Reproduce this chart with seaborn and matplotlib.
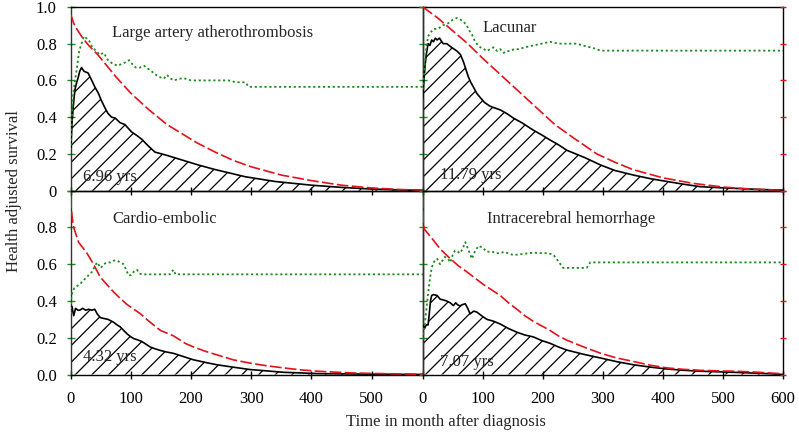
import numpy as np
import matplotlib
matplotlib.use("Agg")
import matplotlib.pyplot as plt
import pandas as pd
import seaborn as sns

# ---- data (months after diagnosis) ----
panel_titles = ["Large artery atherothrombosis", "Lacunar",
                "Cardio-embolic", "Intracerebral hemorrhage"]
area_labels = ["6.96 yrs", "11.79 yrs", "4.32 yrs", "7.07 yrs"]

# Large artery atherothrombosis
red1_m = [0, 5, 10, 20, 30, 45, 60, 75, 100, 130, 160, 185, 210, 240, 270, 300, 350, 400, 450, 500, 550, 600]
red1_v = [0.96, 0.91, 0.88, 0.83, 0.79, 0.74, 0.68, 0.62, 0.53, 0.44, 0.36, 0.31, 0.26, 0.21, 0.165, 0.13,
          0.085, 0.055, 0.03, 0.015, 0.006, 0.002]
green1_m = [0, 2, 4, 7, 10, 14, 18, 22, 26, 30, 36, 42, 48, 55, 62, 70, 78, 85, 92, 97, 102, 108, 115, 122,
            130, 138, 146, 155, 160, 166, 172, 180, 190, 200, 216, 235, 249, 262, 275, 290, 296, 600]
green1_v = [0.22, 0.40, 0.52, 0.60, 0.66, 0.76, 0.80, 0.84, 0.83, 0.82, 0.78, 0.76, 0.74, 0.75, 0.71, 0.69,
            0.68, 0.69, 0.70, 0.71, 0.69, 0.67, 0.67, 0.68, 0.66, 0.64, 0.62, 0.61, 0.63, 0.61, 0.60, 0.61,
            0.61, 0.60, 0.60, 0.60, 0.60, 0.60, 0.59, 0.59, 0.565, 0.565]
black1_m = [0, 2, 4, 7, 10, 12, 15, 18, 22, 29, 35, 40, 46, 51, 57, 62, 68, 74, 82, 90, 101, 110, 118, 130,
            140, 157, 184, 212, 240, 290, 340, 400, 450, 500, 550, 600]
black1_v = [0.22, 0.36, 0.45, 0.55, 0.59, 0.61, 0.65, 0.67, 0.65, 0.64, 0.60, 0.565, 0.53, 0.49, 0.45, 0.42,
            0.40, 0.395, 0.37, 0.36, 0.32, 0.30, 0.28, 0.24, 0.21, 0.195, 0.168, 0.14, 0.115, 0.076, 0.05,
            0.03, 0.018, 0.009, 0.004, 0.001]

# Lacunar
red2_m = [0, 25, 50, 75, 100, 130, 160, 190, 220, 250, 290, 320, 350, 400, 450, 500, 550, 600]
red2_v = [1.0, 0.94, 0.87, 0.80, 0.72, 0.63, 0.54, 0.45, 0.36, 0.29, 0.20, 0.155, 0.115, 0.07, 0.04, 0.02,
          0.008, 0.002]
green2_m = [0, 2, 4, 6, 9, 13, 18, 25, 34, 42, 50, 57, 63, 68, 73, 78, 82, 86, 90, 96, 102, 107, 112, 118,
            124, 129, 135, 140, 146, 152, 160, 170, 184, 198, 212, 226, 240, 256, 273, 285, 296, 600]
green2_v = [0.55, 0.62, 0.71, 0.78, 0.84, 0.86, 0.88, 0.88, 0.90, 0.91, 0.93, 0.94, 0.93, 0.92, 0.90, 0.87,
            0.85, 0.82, 0.80, 0.78, 0.77, 0.76, 0.77, 0.78, 0.76, 0.77, 0.75, 0.76, 0.76, 0.77, 0.77, 0.78,
            0.79, 0.80, 0.81, 0.80, 0.80, 0.80, 0.785, 0.775, 0.762, 0.762]
black2_m = [0, 1, 2, 4, 6, 9, 12, 15, 18, 21, 24, 28, 34, 40, 48, 57, 63, 68, 72, 76, 80, 84, 90, 95, 103,
            112, 120, 129, 140, 151, 165, 184, 200, 212, 226, 240, 270, 296, 320, 351, 380, 407, 435, 462,
            490, 518, 560, 600]
black2_v = [0.50, 0.55, 0.60, 0.68, 0.74, 0.80, 0.79, 0.82, 0.81, 0.83, 0.82, 0.83, 0.80, 0.80, 0.78, 0.76,
            0.74, 0.70, 0.66, 0.62, 0.59, 0.567, 0.53, 0.51, 0.48, 0.46, 0.45, 0.44, 0.42, 0.395, 0.37,
            0.33, 0.30, 0.276, 0.25, 0.22, 0.18, 0.14, 0.11, 0.085, 0.065, 0.05, 0.035, 0.022, 0.017,
            0.013, 0.007, 0.003]

# Cardio-embolic
red3_m = [0, 1, 3, 5, 9, 13, 20, 27, 38, 49, 60, 71, 82, 94, 105, 116, 130, 149, 171, 190, 204, 225, 243,
          270, 298, 325, 354, 380, 410, 440, 465, 500, 550, 600]
red3_v = [0.97, 0.90, 0.84, 0.80, 0.76, 0.72, 0.69, 0.66, 0.60, 0.53, 0.49, 0.45, 0.415, 0.38, 0.355, 0.33,
          0.29, 0.24, 0.21, 0.17, 0.15, 0.125, 0.107, 0.08, 0.062, 0.048, 0.036, 0.026, 0.018, 0.013,
          0.009, 0.006, 0.003, 0.001]
green3_m = [0, 1, 3, 6, 10, 15, 20, 27, 32, 36, 40, 44, 50, 55, 60, 66, 72, 77, 82, 88, 92, 96, 100, 105,
            110, 114, 118, 165, 168, 171, 174, 600]
green3_v = [0.33, 0.42, 0.45, 0.47, 0.48, 0.49, 0.51, 0.53, 0.55, 0.56, 0.59, 0.61, 0.58, 0.60, 0.61, 0.61,
            0.62, 0.62, 0.61, 0.60, 0.57, 0.54, 0.54, 0.56, 0.57, 0.55, 0.545, 0.545, 0.56, 0.57, 0.545,
            0.545]
black3_m = [0, 2, 5, 8, 12, 15, 20, 25, 30, 35, 40, 44, 49, 55, 62, 71, 77, 82, 88, 94, 100, 105, 110, 118,
            125, 132, 140, 150, 160, 171, 185, 204, 225, 243, 270, 298, 325, 354, 380, 410, 440, 470, 500,
            550, 600]
black3_v = [0.36, 0.37, 0.32, 0.36, 0.35, 0.35, 0.36, 0.35, 0.355, 0.35, 0.355, 0.33, 0.31, 0.305, 0.30,
            0.285, 0.27, 0.26, 0.24, 0.22, 0.205, 0.195, 0.19, 0.18, 0.165, 0.15, 0.14, 0.13, 0.122,
            0.115, 0.10, 0.08, 0.065, 0.053, 0.04, 0.027, 0.02, 0.012, 0.009, 0.005, 0.004, 0.003, 0.002,
            0.001, 0.0]

# Intracerebral hemorrhage
red4_m = [0, 1, 3, 8, 18, 30, 46, 60, 73, 87, 101, 115, 129, 143, 157, 170, 184, 198, 212, 226, 240, 268,
          296, 323, 351, 380, 407, 435, 462, 490, 518, 550, 580, 600]
red4_v = [0.97, 0.82, 0.79, 0.77, 0.73, 0.68, 0.63, 0.59, 0.56, 0.525, 0.49, 0.46, 0.43, 0.39, 0.355, 0.32,
          0.29, 0.265, 0.24, 0.21, 0.187, 0.15, 0.116, 0.09, 0.071, 0.05, 0.036, 0.028, 0.023, 0.02,
          0.018, 0.014, 0.008, 0.004]
green4_m = [0, 2, 4, 7, 9, 12, 15, 18, 24, 29, 33, 37, 42, 46, 50, 54, 58, 62, 66, 71, 76, 82, 87, 93, 100,
            107, 115, 122, 129, 135, 142, 151, 165, 184, 200, 210, 218, 225, 234, 255, 273, 279, 600]
green4_v = [0.19, 0.25, 0.29, 0.38, 0.44, 0.52, 0.58, 0.61, 0.63, 0.60, 0.62, 0.64, 0.63, 0.61, 0.65, 0.675,
            0.67, 0.66, 0.68, 0.72, 0.68, 0.63, 0.67, 0.70, 0.69, 0.667, 0.67, 0.66, 0.66, 0.667, 0.66,
            0.65, 0.655, 0.663, 0.66, 0.66, 0.65, 0.62, 0.58, 0.58, 0.58, 0.61, 0.61]
black4_m = [0, 1, 3, 6, 9, 11, 13, 15, 18, 24, 29, 35, 40, 46, 51, 55, 58, 62, 66, 71, 75, 79, 85, 90, 98,
            107, 118, 129, 143, 157, 170, 184, 198, 212, 226, 240, 268, 296, 323, 351, 380, 407, 435, 462,
            490, 518, 550, 580, 600]
black4_v = [0.26, 0.27, 0.25, 0.27, 0.27, 0.33, 0.40, 0.43, 0.435, 0.43, 0.41, 0.405, 0.40, 0.39, 0.375,
            0.39, 0.38, 0.373, 0.38, 0.385, 0.36, 0.33, 0.345, 0.34, 0.32, 0.30, 0.29, 0.275, 0.25, 0.23,
            0.215, 0.205, 0.185, 0.17, 0.15, 0.133, 0.11, 0.09, 0.07, 0.053, 0.04, 0.03, 0.023, 0.018,
            0.015, 0.012, 0.008, 0.004, 0.0]

RED = "#e3121b"
GREEN = "#1c8a1c"

sns.set_theme(style="ticks")
plt.rcParams["font.family"] = ["Liberation Serif", "DejaVu Serif"]
plt.rcParams["hatch.linewidth"] = 0.9
plt.rcParams["hatch.color"] = "black"

fig = plt.figure(figsize=(7.99, 4.36), dpi=100)
# panel rectangles in figure fraction
left_x, left_w = 0.0885, 0.4406
right_x, right_w = 0.529, 0.451
top_y, bot_y, ph = 0.5626, 0.141, 0.4216
ax_tl = fig.add_axes([left_x, top_y, left_w, ph])
ax_tr = fig.add_axes([right_x, top_y, right_w, ph])
ax_bl = fig.add_axes([left_x, bot_y, left_w, ph])
ax_br = fig.add_axes([right_x, bot_y, right_w, ph])

panels = [
    (ax_tl, red1_m, red1_v, green1_m, green1_v, black1_m, black1_v, (69, 0.86), (20, 0.075)),
    (ax_tr, red2_m, red2_v, green2_m, green2_v, black2_m, black2_v, (100, 0.887), (29, 0.085)),
    (ax_bl, red3_m, red3_v, green3_m, green3_v, black3_m, black3_v, (69, 0.845), (20, 0.093)),
    (ax_br, red4_m, red4_v, green4_m, green4_v, black4_m, black4_v, (107, 0.845), (29, 0.07)),
]

for i, (ax, rm, rv, gm, gv, bm, bv, tpos, lpos) in enumerate(panels):
    is_left = i in (0, 2)
    is_top = i in (0, 1)

    df_b = pd.DataFrame({"month": bm, "value": bv})
    # hatched area under the health adjusted survival curve
    ax.fill_between(df_b["month"], df_b["value"], 0, facecolor="none",
                    edgecolor="black", hatch="//", linewidth=0, zorder=1)
    sns.lineplot(data=df_b, x="month", y="value", ax=ax, color="black",
                 linewidth=1.2, estimator=None, zorder=3)
    sns.lineplot(x=rm, y=rv, ax=ax, color=RED, linewidth=1.2,
                 linestyle=(0, (7, 2)), estimator=None, zorder=4)
    sns.lineplot(x=gm, y=gv, ax=ax, color=GREEN, linewidth=1.3,
                 linestyle=(0, (1.2, 1.5)), estimator=None, zorder=5)

    ax.set_xlim(0, 585 if is_left else 600)
    ax.set_ylim(0, 1.0)
    ax.set_xlabel("")
    ax.set_ylabel("")
    ax.set_xticks([0, 100, 200, 300, 400, 500] if is_left else [0, 100, 200, 300, 400, 500, 600])
    ax.set_yticks([0, 0.2, 0.4, 0.6, 0.8, 1.0])
    if is_left:
        if is_top:
            ax.set_yticklabels(["0", "0.2", "0.4", "0.6", "0.8", "1.0"])
        else:
            ax.set_yticklabels(["0.0", "0.2", "0.4", "0.6", "0.8", ""])
    ax.tick_params(axis="y", direction="inout", length=6, width=1, color=GREEN,
                   labelsize=12, pad=7, labelleft=is_left, labelcolor="black")
    ax.tick_params(axis="x", direction="inout", length=6, width=1, color="black",
                   labelsize=12, pad=9, labelbottom=not is_top, labelcolor="black")
    for sp in ax.spines.values():
        sp.set_visible(True)
        sp.set_color("black")
        sp.set_linewidth(1.0)
    ax.spines["left"].set_color("#333333")
    ax.set_facecolor("none")

    if not is_left:
        tw = ax.twinx()
        tw.set_ylim(0, 1.0)
        tw.set_yticks([0, 0.2, 0.4, 0.6, 0.8, 1.0])
        tw.tick_params(axis="y", direction="inout", length=5, width=1, color=RED,
                       labelright=False)
        for sp in tw.spines.values():
            sp.set_visible(False)

    ax.text(tpos[0], tpos[1], panel_titles[i], fontsize=12, ha="left", va="center", zorder=6)
    ax.text(lpos[0], lpos[1], area_labels[i], fontsize=12, ha="left", va="center", zorder=6)

fig.text(0.017, 0.562, "Health adjusted survival", rotation=90, fontsize=12,
         ha="center", va="center")
fig.text(0.558, 0.032, "Time in month after diagnosis", fontsize=12,
         ha="center", va="center")

fig.savefig("out.png", dpi=100, facecolor="white")
